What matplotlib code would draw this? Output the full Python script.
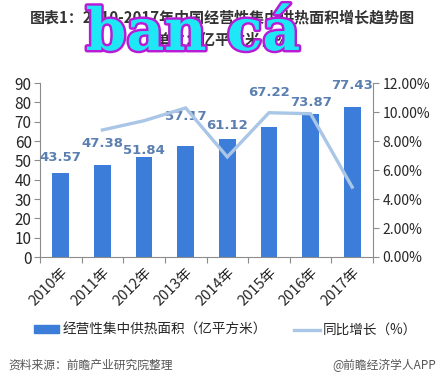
import matplotlib
matplotlib.use("Agg")
import matplotlib.pyplot as plt
import matplotlib.patheffects as pe
from matplotlib.ticker import FixedLocator, FuncFormatter
from matplotlib.patches import Rectangle
from matplotlib.lines import Line2D
import numpy as np

plt.rcParams['font.family'] = ['Noto Sans CJK SC', 'DejaVu Sans']

years = ['2010年', '2011年', '2012年', '2013年', '2014年', '2015年', '2016年', '2017年']
area = [43.57, 47.38, 51.84, 57.17, 61.12, 67.22, 73.87, 77.43]
growth_years = ['2011年', '2012年', '2013年', '2014年', '2015年', '2016年', '2017年']
growth = [8.76, 9.40, 10.28, 6.90, 9.95, 9.88, 4.82]

# label vertical offsets in points (layout only)
label_offsets = [6, 11, 0, 17, 5, 20, 4, 11]

bar_color = '#3b7dd8'
line_color = '#a9c6e6'
label_color = '#5a7fb0'
axis_color = '#8c8c8c'
text_color = '#262626'

fig = plt.figure(figsize=(4.44, 3.83), dpi=100)
ax = fig.add_axes([40/444, 1-257/383, 333/444, 174/383])
x = np.arange(len(years))
ax.bar(x, area, width=0.4, color=bar_color, zorder=2)
ax.set_xlim(-0.5, len(years) - 0.5)
ax.set_ylim(0, 90)
ax.set_yticks(np.arange(0, 91, 10))

for xi, v, off in zip(x, area, label_offsets):
    ax.annotate(f'{v:.2f}', (xi, v), xytext=(0, off), textcoords='offset points',
                ha='center', va='bottom', fontsize=9.5, fontweight='bold',
                color=label_color, family='DejaVu Sans', zorder=3)

ax2 = ax.twinx()
gx = [years.index(y) for y in growth_years]
ax2.plot(gx, growth, color=line_color, lw=2.4, solid_joinstyle='miter', zorder=4)
ax2.set_ylim(0, 12)
ax2.set_yticks(np.arange(0, 12.01, 2))
ax2.yaxis.set_major_formatter(FuncFormatter(lambda v, p: f'{v:.2f}%'))

for a in (ax, ax2):
    a.spines['top'].set_visible(False)
    for s in ('left', 'right', 'bottom'):
        a.spines[s].set_color(axis_color)
        a.spines[s].set_linewidth(0.8)
    a.tick_params(axis='y', colors=axis_color, labelcolor=text_color,
                  length=4, width=0.8)

ax.spines['right'].set_visible(False)
ax2.spines['left'].set_visible(False)
ax2.spines['bottom'].set_visible(False)
ax.tick_params(axis='y', pad=2, labelsize=11)
ax2.tick_params(axis='y', pad=3, labelsize=10)

ax.set_xticks(x)
ax.set_xticklabels(years, rotation=45, ha='right', rotation_mode='anchor',
                   fontsize=10.5, color=text_color)
ax.tick_params(axis='x', which='major', length=0, pad=6)
ax.xaxis.set_minor_locator(FixedLocator(np.arange(-0.5, len(years), 1.0)))
ax.tick_params(axis='x', which='minor', length=4, width=0.8, color=axis_color)

# legend
handles = [Rectangle((0, 0), 1, 1, color=bar_color),
           Line2D([0], [0], color=line_color, lw=2.4)]
fig.legend(handles, ['经营性集中供热面积（亿平方米）', '同比增长（%）'],
           loc='center', bbox_to_anchor=(0.507, 1-330/383), ncol=2, frameon=False,
           fontsize=9.8, handlelength=1.9, handleheight=0.55, columnspacing=2.0,
           handletextpad=0.2, labelcolor=text_color)

# title
fig.text(0.5, 1-17/383, '图表1：2010-2017年中国经营性集中供热面积增长趋势图',
         ha='center', va='center', fontsize=10.8, fontweight='bold', color='#333333')
fig.text(0.5, 1-40/383, '（单位：亿平方米，%）',
         ha='center', va='center', fontsize=10.8, fontweight='bold', color='#333333')

# overlay text
fig.text(193/444, 1-50/383, 'ban cá', ha='center', va='baseline', fontsize=42,
         fontweight='bold', family='DejaVu Serif', color='#1ee8f5',
         path_effects=[pe.withStroke(linewidth=3.5, foreground='#b81ad6')])

# footer
fig.text(8/444, 1-365/383, '资料来源：前瞻产业研究院整理', ha='left', va='center',
         fontsize=8.5, color='#555555', style='italic')
fig.text(436/444, 1-365/383, '@前瞻经济学人APP', ha='right', va='center',
         fontsize=8.5, color='#555555')

fig.savefig('out.png', dpi=100)
